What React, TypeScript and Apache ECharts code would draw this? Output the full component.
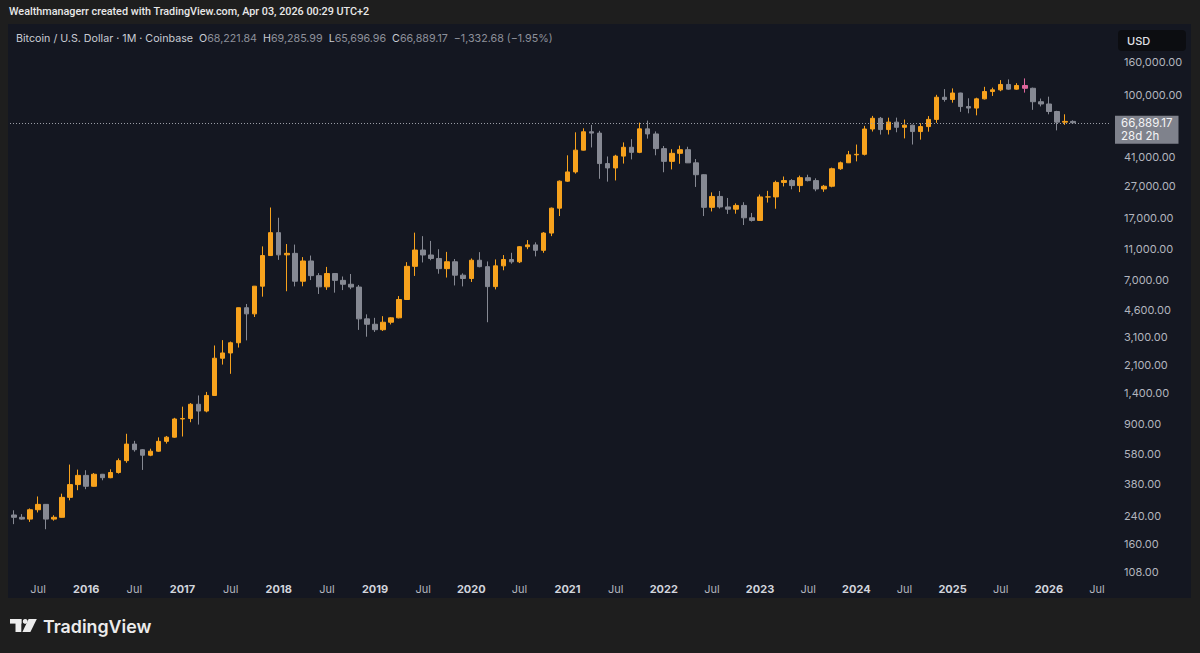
import React, { useEffect, useRef } from 'react';
import * as echarts from 'echarts';

const FONT = 'Inter, "Noto Sans", "DejaVu Sans", sans-serif';
const FONT_NARROW = 'Roboto, "Liberation Sans", sans-serif';

// Monthly candles, each [open, high, low, close] (BTC/USD, Coinbase, 1M)
const OHLC_2015: number[][] = [ // Apr – Dec
  [244, 261, 214, 236], [236, 247, 228, 230], [230, 268, 221, 263],
  [263, 318, 253, 284], [284, 285, 199, 230], [230, 243, 225, 236],
  [236, 331, 235, 314], [314, 502, 301, 377], [377, 467, 348, 430],
];
const OHLC_2016: number[][] = [
  [430, 463, 353, 368], [368, 445, 366, 437], [437, 439, 401, 416],
  [416, 469, 413, 448], [448, 548, 441, 531], [531, 780, 515, 673],
  [673, 705, 604, 621], [621, 627, 465, 574], [574, 630, 566, 608],
  [608, 741, 603, 700], [700, 756, 678, 743], [743, 980, 737, 964],
];
const OHLC_2017: number[][] = [
  [964, 1150, 750, 971], [971, 1210, 920, 1190], [1190, 1350, 890, 1080],
  [1080, 1420, 1060, 1350], [1350, 2760, 1340, 2300], [2300, 2980, 2100, 2480],
  [2480, 2920, 1840, 2870], [2870, 4750, 2680, 4740], [4740, 5000, 2970, 4340],
  [4340, 6470, 4150, 6450], [6450, 11400, 5550, 10000], [10000, 19890, 10400, 13880],
];
const OHLC_2018: number[][] = [
  [13880, 17180, 9400, 10100], [10100, 11790, 6000, 10320], [10320, 11700, 6430, 6925],
  [6925, 9780, 6440, 9250], [9250, 10000, 7040, 7500], [7500, 7780, 5770, 6390],
  [6390, 8500, 6120, 7730], [7730, 7760, 5880, 7010], [7010, 7410, 6100, 6630],
  [6630, 7680, 6180, 6370], [6370, 6560, 3450, 4040], [4040, 4310, 3130, 3740],
];
const OHLC_2019: number[][] = [
  [3740, 4100, 3350, 3460], [3460, 4200, 3400, 3850], [3850, 4130, 3730, 4100],
  [4100, 5600, 4070, 5330], [5330, 9100, 5330, 8570], [8570, 13880, 7470, 10820],
  [10820, 13200, 9060, 10080], [10080, 12330, 9350, 9590], [9590, 10950, 7710, 8290],
  [8290, 10540, 7300, 9150], [9150, 9520, 6520, 7550], [7550, 7750, 6430, 7200],
];
const OHLC_2020: number[][] = [
  [7200, 9590, 6850, 9350], [9350, 10500, 8450, 8530], [8530, 9190, 3850, 6410],
  [6410, 9460, 6160, 8630], [8630, 10070, 8100, 9450], [9450, 10400, 8900, 9140],
  [9140, 11450, 8980, 11350], [11350, 12480, 10950, 11650], [11650, 12080, 9880, 10780],
  [10780, 14000, 10400, 13800], [13800, 19870, 13200, 19700], [19700, 29300, 17600, 28990],
];
const OHLC_2021: number[][] = [
  [28990, 41980, 28700, 33100], [33100, 58350, 32300, 45200], [45200, 61800, 45000, 58800],
  [58800, 64900, 47000, 57700], [57700, 59600, 30000, 37300], [37300, 41300, 28800, 35040],
  [35040, 42300, 29300, 41500], [41500, 50500, 37300, 47100], [47100, 52900, 39600, 43800],
  [43800, 67000, 43300, 61300], [61300, 69000, 53300, 57000], [57000, 59100, 42000, 46200],
];
const OHLC_2022: number[][] = [
  [46200, 47990, 32950, 38500], [38500, 45800, 34300, 43200], [43200, 48200, 37200, 45500],
  [45500, 47450, 37600, 37700], [37700, 39800, 26700, 31800], [31800, 31990, 17600, 19940],
  [19940, 24700, 18800, 23300], [23300, 25200, 19600, 20050], [20050, 22800, 18150, 19420],
  [19420, 21100, 18200, 20490], [20490, 21450, 15480, 17170], [17170, 18400, 16260, 16540],
];
const OHLC_2023: number[][] = [
  [16540, 23950, 16500, 23140], [23140, 25250, 21350, 23150], [23150, 29200, 19550, 28480],
  [28480, 31000, 26900, 29250], [29250, 29850, 25800, 27220], [27220, 31400, 24800, 30480],
  [30480, 31800, 28900, 29230], [29230, 30200, 25100, 25930], [25930, 27480, 24900, 26970],
  [26970, 35200, 26560, 34640], [34640, 38400, 34100, 37720], [37720, 44700, 37600, 42280],
];
const OHLC_2024: number[][] = [
  [42280, 48970, 38500, 42580], [42580, 64000, 41900, 61180], [61180, 73800, 59000, 71330],
  [71330, 72700, 56500, 60670], [60670, 71950, 56550, 67500], [67500, 72000, 58400, 62700],
  [62700, 70000, 53500, 64600], [64600, 65100, 49000, 58970], [58970, 66500, 52550, 63330],
  [63330, 73600, 58900, 70200], [70200, 99800, 66800, 96400], [96400, 108300, 90500, 93400],
];
const OHLC_2025: number[][] = [
  [93400, 109400, 89200, 102400], [102400, 102800, 78200, 84350], [84350, 95000, 76600, 82550],
  [82550, 95750, 74400, 94200], [94200, 111900, 93400, 104600], [104600, 110600, 98200, 107150],
  [107150, 123200, 105100, 115750], [115750, 124450, 107300, 108250], [108250, 117900, 107300, 114050],
  [114050, 126200, 103000, 109600], [109600, 110600, 80500, 90400], [90400, 94600, 84500, 87500],
];
const OHLC_2026: number[][] = [ // Jan – Apr (Apr in progress)
  [87500, 97200, 75500, 78600], [78600, 79400, 60000, 67500], [67500, 75500, 64900, 68221.85],
  [68221.84, 69285.99, 65696.96, 66889.17],
];

const YEARS: number[][][] = [
  OHLC_2015, OHLC_2016, OHLC_2017, OHLC_2018, OHLC_2019, OHLC_2020,
  OHLC_2021, OHLC_2022, OHLC_2023, OHLC_2024, OHLC_2025, OHLC_2026,
];
const FIRST_YEAR = 2015;
const FIRST_MONTH = 4;
const EMPTY_MONTHS_AFTER = 4; // May – Aug 2026 (blank space on the time axis)

const PRICE_TICKS = [108, 160, 240, 380, 580, 900, 1400, 2100, 3100, 4600, 7000, 11000, 17000, 27000, 41000, 100000, 160000];
const Y_MIN = 99;
const Y_MAX = 275000;

const HIGHLIGHT_MONTH = '2025-10';
const COUNTDOWN = '28d 2h';

const UP = '#f7a21d';
const DOWN = '#868993';
const PINK = '#e0679d';

const pad = (n: number) => (n < 10 ? '0' + n : '' + n);
const CATEGORIES: string[] = [];
const CANDLES: any[] = [];
YEARS.forEach((rows, yi) => {
  rows.forEach((r, mi) => {
    const month = (yi === 0 ? FIRST_MONTH : 1) + mi;
    const key = `${FIRST_YEAR + yi}-${pad(month)}`;
    CATEGORIES.push(key);
    const v = [r[0], r[3], r[2], r[1]];
    if (key === HIGHLIGHT_MONTH) {
      CANDLES.push({ value: v, itemStyle: { color: PINK, color0: PINK, borderColor: PINK, borderColor0: PINK } });
    } else {
      CANDLES.push(v);
    }
  });
});
{
  const last = CATEGORIES[CATEGORIES.length - 1];
  let y = +last.slice(0, 4);
  let m = +last.slice(5, 7);
  for (let i = 0; i < EMPTY_MONTHS_AFTER; i++) {
    m += 1;
    if (m > 12) { m = 1; y += 1; }
    CATEGORIES.push(`${y}-${pad(m)}`);
  }
}

const ALL = ([] as number[][]).concat(...YEARS);
const LAST = ALL[ALL.length - 1];
const PREV_CLOSE = ALL[ALL.length - 2][3];

const fmt2 = (v: number) => v.toLocaleString('en-US', { minimumFractionDigits: 2, maximumFractionDigits: 2 });
const CHANGE = LAST[3] - PREV_CLOSE;
const CHANGE_PCT = (CHANGE / PREV_CLOSE) * 100;
const signed = (s: string, v: number) => (v < 0 ? '\u2212' + s : '+' + s);

export default function App() {
  const ref = useRef<HTMLDivElement>(null);
  useEffect(() => {
    if (!ref.current) return;
    const chart = echarts.init(ref.current, null, { renderer: 'svg' });
    const headerText =
      `{n|Bitcoin / U.S. Dollar \u00b7 1M \u00b7 Coinbase}  ` +
      `{k|O}{v|${fmt2(LAST[0])}}  {k|H}{v|${fmt2(LAST[1])}}  ` +
      `{k|L}{v|${fmt2(LAST[2])}}  {k|C}{v|${fmt2(LAST[3])}}  ` +
      `{v|${signed(fmt2(Math.abs(CHANGE)), CHANGE)} (${signed(Math.abs(CHANGE_PCT).toFixed(2) + '%', CHANGE)})}`;
    const HF = 10.7;

    const option: any = {
      animation: false,
      backgroundColor: '#1e1e1e',
      textStyle: { fontFamily: FONT },
      grid: { left: 10, right: 91, top: 24, bottom: 75, containLabel: false },
      xAxis: {
        type: 'category',
        data: CATEGORIES,
        boundaryGap: true,
        axisLine: { show: false },
        axisTick: { show: false },
        splitLine: { show: false },
        axisLabel: {
          interval: (_i: number, v: string) => v.endsWith('-01') || v.endsWith('-07'),
          hideOverlap: false,
          margin: 5,
          formatter: (v: string) => (v.endsWith('-01') ? `{y|${v.slice(0, 4)}}` : '{m|Jul}'),
          rich: {
            y: { fontFamily: FONT, fontSize: 11, fontWeight: 'bold', color: '#d1d4dc' },
            m: { fontFamily: FONT, fontSize: 11, color: '#b2b5be' },
          },
        },
      },
      yAxis: {
        type: 'log',
        logBase: 10,
        min: Y_MIN,
        max: Y_MAX,
        position: 'right',
        axisLine: { show: false },
        axisTick: { show: false },
        splitLine: { show: false },
        axisLabel: {
          customValues: PRICE_TICKS,
          formatter: (v: number) => fmt2(v),
          color: '#b2b5be',
          fontSize: 11,
          fontFamily: FONT,
          margin: 15,
        },
      },
      series: [
        {
          type: 'candlestick',
          data: CANDLES,
          barWidth: 5,
          silent: true,
          itemStyle: { color: UP, color0: DOWN, borderColor: UP, borderColor0: DOWN, borderWidth: 1 },
          markLine: {
            silent: true,
            symbol: ['none', 'none'],
            lineStyle: { type: [1, 2], color: '#9a9da6', width: 1 },
            label: {
              show: true,
              position: 'end',
              distance: 6,
              offset: [0, 7],
              formatter: `${fmt2(LAST[3])}\n${COUNTDOWN}`,
              fontSize: 11.5,
              fontFamily: FONT,
              lineHeight: 13,
              color: '#f4f4f6',
              backgroundColor: '#7f828c',
              padding: [1, 6, 1, 6],
              align: 'left',
            },
            data: [{ yAxis: LAST[3] }],
          },
        },
      ],
      graphic: [
        { type: 'rect', z: -1, silent: true, shape: { x: 8, y: 24, width: 1183, height: 574 }, style: { fill: '#141721' } },
        {
          type: 'text', x: 9, y: 11, silent: true,
          style: { text: 'Wealthmanagerr created with TradingView.com, Apr 03, 2026 00:29 UTC+2', fill: '#e8e8e8', font: `500 10.8px ${FONT_NARROW}`, verticalAlign: 'middle' },
        },
        {
          type: 'text', x: 16, y: 38, silent: true,
          style: {
            text: headerText, verticalAlign: 'middle', font: `${HF}px ${FONT}`,
            rich: {
              n: { fill: '#c9ccd4', fontSize: HF, fontFamily: FONT },
              k: { fill: '#c9ccd4', fontSize: HF, fontFamily: FONT },
              v: { fill: '#8d909a', fontSize: HF, fontFamily: FONT },
            },
          },
        },
        { type: 'rect', silent: true, shape: { x: 1118, y: 30, width: 68, height: 21, r: 4 }, style: { fill: '#0c0d11' } },
        { type: 'text', x: 1127, y: 40.5, silent: true, style: { text: 'USD', fill: '#e0e2e8', font: `500 11px ${FONT}`, verticalAlign: 'middle' } },
        // TradingView logo mark
        { type: 'rect', silent: true, shape: { x: 10, y: 619, width: 11.5, height: 4.6 }, style: { fill: '#ececec' } },
        { type: 'rect', silent: true, shape: { x: 15.5, y: 619, width: 5.8, height: 13 }, style: { fill: '#ececec' } },
        { type: 'circle', silent: true, shape: { cx: 25.2, cy: 621.4, r: 2.4 }, style: { fill: '#ececec' } },
        { type: 'polygon', silent: true, shape: { points: [[28.6, 619], [36.8, 619], [30.4, 632], [22.4, 632]] }, style: { fill: '#ececec' } },
        { type: 'text', x: 43, y: 626, silent: true, style: { text: 'TradingView', fill: '#ececec', font: `600 17.8px ${FONT}`, verticalAlign: 'middle' } },
      ],
    };
    chart.setOption(option);
    return () => chart.dispose();
  }, []);
  return <div ref={ref} style={{ position: 'absolute', left: 0, top: 0, width: 1200, height: 653 }} />;
}
